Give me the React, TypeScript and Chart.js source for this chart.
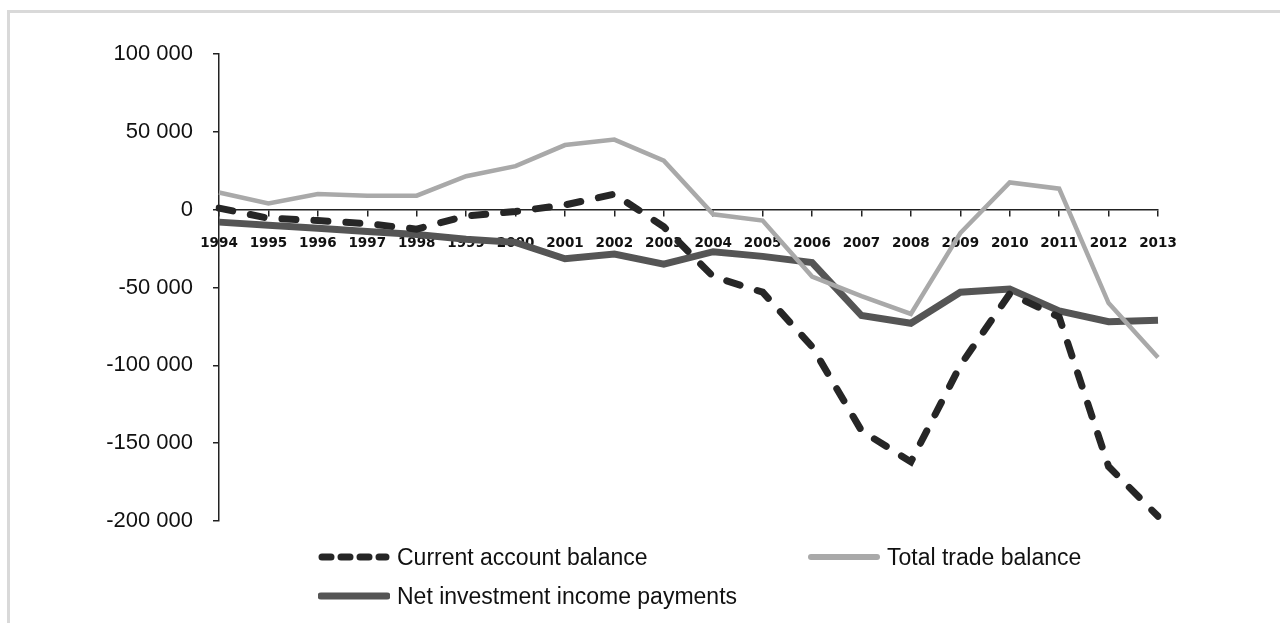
import React, { useEffect, useRef } from "react";
import { Chart, registerables } from "chart.js";

Chart.register(...registerables);

const years = ["1994","1995","1996","1997","1998","1999","2000","2001","2002","2003","2004","2005","2006","2007","2008","2009","2010","2011","2012","2013"];

const currentAccount = [1000, -5500, -7000, -9000, -12500, -4000, -1200, 3000, 10000, -11000, -43000, -53000, -88000, -142000, -162000, -100000, -54000, -69000, -165000, -197000];

const totalTrade = [11000, 4000, 10000, 9000, 9000, 21500, 28000, 41500, 45000, 31500, -3000, -7000, -43000, -55500, -67000, -15000, 17500, 13500, -60000, -95000];

const netInvestment = [-8000, -10000, -12000, -14000, -16000, -19000, -21000, -31500, -28500, -35000, -27000, -30000, -34000, -68000, -73000, -53000, -51000, -65000, -72000, -71000];

const yMin = -200000;
const yMax = 100000;
const yStep = 50000;

const seriesNames = ["Current account balance", "Total trade balance", "Net investment income payments"];

function fmt(v: number): string {
  const s = String(Math.abs(v)).replace(/\B(?=(\d{3})+(?!\d))/g, " ");
  return v < 0 ? "-" + s : s;
}

export default function App() {
  const ref = useRef<HTMLCanvasElement | null>(null);

  useEffect(() => {
    if (!ref.current) return;
    const chart = new Chart(ref.current, {
      type: "line",
      data: {
        labels: years,
        datasets: [
          {
            label: seriesNames[0],
            data: currentAccount,
            borderColor: "#262626",
            borderWidth: 7,
            borderDash: [14, 18],
            borderCapStyle: "round",
            pointRadius: 0,
            tension: 0,
            order: 1,
          },
          {
            label: seriesNames[1],
            data: totalTrade,
            borderColor: "#a9a9a9",
            borderWidth: 4.5,
            pointRadius: 0,
            tension: 0,
            order: 0,
          },
          {
            label: seriesNames[2],
            data: netInvestment,
            borderColor: "#555555",
            borderWidth: 7,
            pointRadius: 0,
            tension: 0,
            order: 2,
          },
        ],
      },
      options: {
        responsive: false,
        animation: false,
        layout: { padding: { left: 0, top: 54, right: 122, bottom: 102 } },
        plugins: { legend: { display: false }, tooltip: { enabled: false } },
        scales: {
          x: {
            type: "category",
            position: { y: 0 },
            offset: false,
            grid: { drawOnChartArea: false, drawTicks: true, tickLength: 6, color: "#222", lineWidth: 1.5 },
            border: { display: true, color: "#222", width: 1.5 },
            ticks: {
              autoSkip: false,
              maxRotation: 0,
              minRotation: 0,
              padding: 20,
              color: "#111",
              font: { family: "'DejaVu Sans', sans-serif", size: 13.5, weight: "bold" },
            },
          },
          y: {
            min: yMin,
            max: yMax,
            afterFit: (s: any) => { s.width = 219; },
            grid: { drawOnChartArea: false, drawTicks: true, tickLength: 6, color: "#222", lineWidth: 1.5 },
            border: { display: true, color: "#222", width: 1.5 },
            ticks: {
              stepSize: yStep,
              padding: 20,
              color: "#111",
              font: { family: "'Liberation Sans', Arial, sans-serif", size: 22 },
              callback: (v: any) => fmt(Number(v)),
            },
          },
        },
      },
    });
    return () => chart.destroy();
  }, []);

  const legendFont: React.CSSProperties = {
    fontFamily: "'Liberation Sans', Arial, sans-serif",
    fontSize: 23,
    color: "#111",
    whiteSpace: "nowrap",
  };

  const item = (left: number, cy: number, marker: React.ReactNode, text: string) => (
    <div style={{ position: "absolute", left, top: cy - 15, height: 30, display: "flex", alignItems: "center", ...legendFont }}>
      <svg width={72} height={12} style={{ marginRight: 7 }}>{marker}</svg>
      <span>{text}</span>
    </div>
  );

  return (
    <div style={{ position: "fixed", left: 0, top: 0, width: 1280, height: 623, overflow: "hidden", background: "#fff" }}>
      <div style={{ position: "absolute", left: 7, top: 10, width: 1400, height: 800, borderTop: "3px solid #d9d9d9", borderLeft: "3px solid #d9d9d9" }} />
      <canvas ref={ref} width={1280} height={623} style={{ position: "absolute", left: 0, top: 0 }} />
      {item(318, 557, <line x1={4} y1={6} x2={68} y2={6} stroke="#262626" strokeWidth={7} strokeDasharray="9 10" strokeLinecap="round" />, seriesNames[0])}
      {item(808, 557, <line x1={3} y1={6} x2={69} y2={6} stroke="#a9a9a9" strokeWidth={6} strokeLinecap="round" />, seriesNames[1])}
      {item(318, 596, <line x1={3} y1={6} x2={69} y2={6} stroke="#555555" strokeWidth={7} strokeLinecap="round" />, seriesNames[2])}
    </div>
  );
}
